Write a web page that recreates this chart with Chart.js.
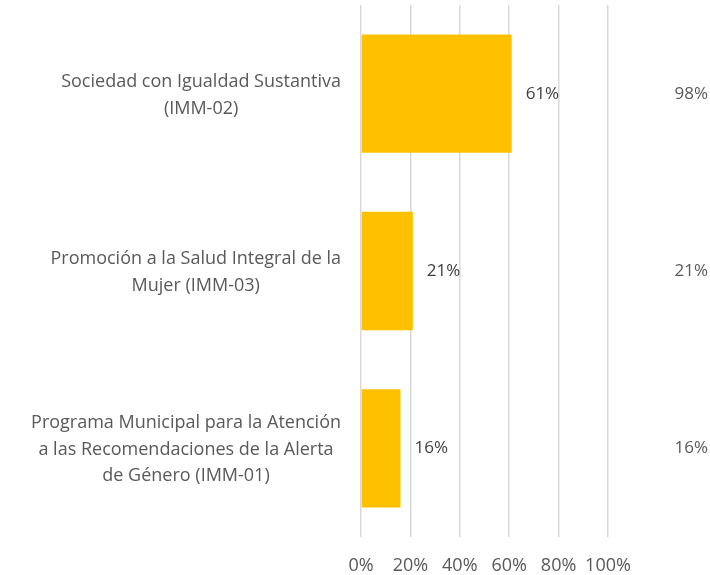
<!DOCTYPE html>
<html lang="es">

<head>
  <meta charset="UTF-8">
  <title>Avance de programas IMM</title>
  <style>
body {
  margin: 0;
  padding: 0;
  background-color: #ffffff;
}

.chart-container {
  width: 710px;
  height: 575px;
}
  </style>
</head>

<body>
  <div class="chart-container">
    <canvas id="avanceChart"></canvas>
  </div>

  <script src="https://cdn.jsdelivr.net/npm/chart.js"></script>
  <script>
    // Programas, de arriba hacia abajo (cada renglon es una linea de la etiqueta)
    const programas = [
      ['Sociedad con Igualdad Sustantiva', '(IMM-02)'],
      ['Promoción a la Salud Integral de la', 'Mujer (IMM-03)'],
      ['Programa Municipal para la Atención', 'a las Recomendaciones de la Alerta', 'de Género (IMM-01)']
    ];
    const avance = [61, 21, 16];
    const avanceColumna = [98, 21, 16];
    const ticksEje = [0, 20, 40, 60, 80, 100];

    const fuente = '"Open Sans", sans-serif';

    // Etiquetas de categoria: cada bloque alineado a la derecha, lineas centradas dentro del bloque
    const etiquetasPrograma = {
      id: 'etiquetasPrograma',
      afterDraw(chart) {
        const ctx = chart.ctx;
        const y = chart.scales.y;
        ctx.save();
        ctx.font = '18px ' + fuente;
        ctx.fillStyle = '#595959';
        ctx.textAlign = 'center';
        ctx.textBaseline = 'middle';
        const lineHeight = 26.5;
        programas.forEach((lineas, i) => {
          const ancho = Math.max(...lineas.map(l => ctx.measureText(l).width));
          const cx = 341 - ancho / 2;
          const cy = y.getPixelForTick(i) + 1.5;
          lineas.forEach((l, j) => {
            ctx.fillText(l, cx, cy + (j - (lineas.length - 1) / 2) * lineHeight);
          });
        });
        ctx.restore();
      }
    };

    // Valor al final de cada barra y columna de valores a la derecha
    const etiquetasValor = {
      id: 'etiquetasValor',
      afterDatasetsDraw(chart) {
        const ctx = chart.ctx;
        const meta = chart.getDatasetMeta(0);
        ctx.save();
        ctx.font = '17px ' + fuente;
        ctx.textBaseline = 'middle';
        meta.data.forEach((bar, i) => {
          ctx.fillStyle = '#404040';
          ctx.textAlign = 'left';
          ctx.fillText(avance[i] + '%', bar.x + 14, bar.y);
          ctx.fillStyle = '#595959';
          ctx.textAlign = 'right';
          ctx.fillText(avanceColumna[i] + '%', 708, bar.y);
        });
        ctx.restore();
      }
    };

    new Chart(document.getElementById('avanceChart'), {
      type: 'bar',
      data: {
        labels: programas,
        datasets: [{
          data: avance,
          backgroundColor: '#FFC000',
          borderWidth: 0,
          barPercentage: 1,
          categoryPercentage: 0.667
        }]
      },
      options: {
        indexAxis: 'y',
        responsive: true,
        maintainAspectRatio: false,
        animation: false,
        layout: {
          padding: { left: 361, right: 102, top: 5, bottom: 0 }
        },
        plugins: {
          legend: { display: false },
          tooltip: { enabled: false }
        },
        scales: {
          x: {
            min: 0,
            max: 100,
            afterBuildTicks(scale) {
              scale.ticks = ticksEje.map(v => ({ value: v }));
            },
            afterFit(scale) {
              scale.height = 38;
            },
            grid: {
              color: '#D9D9D9',
              lineWidth: 1.5,
              drawTicks: false
            },
            border: { display: false },
            ticks: {
              padding: 18,
              maxRotation: 0,
              minRotation: 0,
              autoSkip: false,
              color: '#595959',
              font: { family: 'Open Sans', size: 18 },
              callback: v => v + '%'
            }
          },
          y: {
            display: false
          }
        }
      },
      plugins: [etiquetasPrograma, etiquetasValor]
    });
  </script>
</body>

</html>
